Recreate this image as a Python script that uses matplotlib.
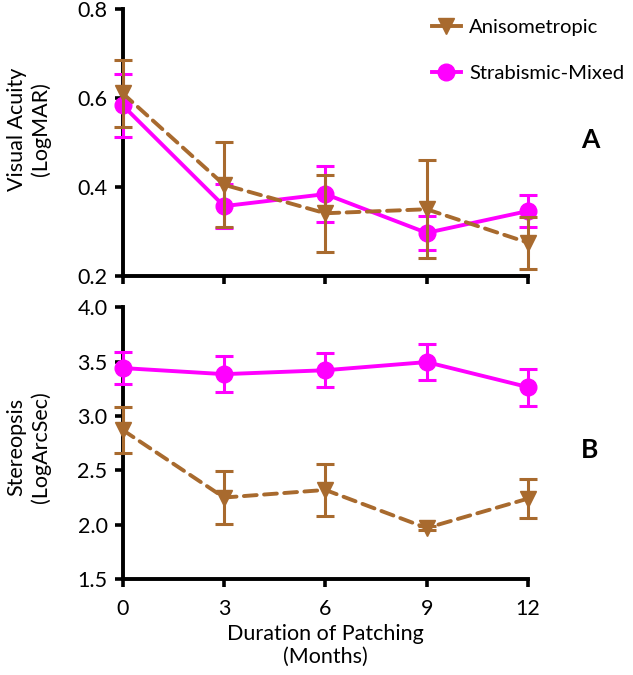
import numpy as np
import matplotlib.pyplot as plt
from matplotlib.lines import Line2D

plt.rcParams['font.family'] = ['Lato', 'DejaVu Sans']

months = [0, 3, 6, 9, 12]

# Visual acuity (LogMAR)
va_aniso = [0.610, 0.405, 0.341, 0.350, 0.275]
va_aniso_err = [0.075, 0.095, 0.086, 0.110, 0.058]
va_strab = [0.583, 0.357, 0.384, 0.297, 0.346]
va_strab_err = [0.070, 0.050, 0.063, 0.038, 0.036]

# Stereopsis (LogArcSec)
st_aniso = [2.87, 2.25, 2.32, 1.97, 2.24]
st_aniso_err = [0.21, 0.24, 0.24, 0.02, 0.18]
st_strab = [3.44, 3.384, 3.42, 3.495, 3.265]
st_strab_err = [0.148, 0.165, 0.155, 0.165, 0.17]

BROWN = '#A86A2E'
MAGENTA = '#FF00FF'
DASH = (0, (3.3, 1.9))


def style_axis(ax):
    for side in ['top', 'right']:
        ax.spines[side].set_visible(False)
    for side in ['left', 'bottom']:
        ax.spines[side].set_linewidth(2.8)
    ax.tick_params(width=2.6, length=6, labelsize=15.5)
    ax.tick_params(axis='y', pad=5)
    ax.tick_params(axis='x', pad=8)
    ax.set_xlim(0, 12)
    ax.set_xticks(months)


def draw(ax, strab, strab_err, aniso, aniso_err):
    ax.errorbar(months, strab, yerr=strab_err, color=MAGENTA, lw=2.8,
                marker='o', markersize=12, capsize=6.5, capthick=2.2,
                elinewidth=2.2, clip_on=False, zorder=3)
    eb = ax.errorbar(months, aniso, yerr=aniso_err, color=BROWN, lw=2.8,
                     ls=DASH, marker='v', markersize=11, capsize=6.5,
                     capthick=2.2, elinewidth=2.2, clip_on=False, zorder=4)
    eb[0].set_dash_capstyle('round')


fig = plt.figure(figsize=(6.33, 6.75), dpi=100)
ax1 = fig.add_axes([0.194, 0.591, 0.640, 0.396])
ax2 = fig.add_axes([0.194, 0.142, 0.640, 0.403])

draw(ax1, va_strab, va_strab_err, va_aniso, va_aniso_err)
style_axis(ax1)
ax1.set_ylim(0.2, 0.8)
ax1.set_yticks([0.2, 0.4, 0.6, 0.8])
ax1.set_yticklabels(['0.2', '0.4', '0.6', '0.8'])
ax1.set_xticklabels([])
ax1.set_ylabel('Visual Acuity\n(LogMAR)', fontsize=15.5)
ax1.yaxis.set_label_coords(-0.178, 0.55)

draw(ax2, st_strab, st_strab_err, st_aniso, st_aniso_err)
style_axis(ax2)
ax2.set_ylim(1.5, 4.0)
ax2.set_yticks([1.5, 2.0, 2.5, 3.0, 3.5, 4.0])
ax2.set_yticklabels(['1.5', '2.0', '2.5', '3.0', '3.5', '4.0'])
ax2.set_xticklabels([str(m) for m in months])
ax2.set_ylabel('Stereopsis\n(LogArcSec)', fontsize=15.5)
ax2.yaxis.set_label_coords(-0.178, 0.485)
ax2.set_xlabel('Duration of Patching\n(Months)', fontsize=15.5, labelpad=4)

handles = [
    Line2D([], [], color=BROWN, lw=2.8, marker='v', markersize=11),
    Line2D([], [], color=MAGENTA, lw=2.8, marker='o', markersize=12),
]
fig.legend(handles, ['Anisometropic', 'Strabismic-Mixed'], loc='upper left',
           bbox_to_anchor=(0.682, 0.972), frameon=False, fontsize=14.6,
           handlelength=1.45, handletextpad=0.4, labelspacing=1.4,
           borderaxespad=0, borderpad=0)

fig.text(0.932, 0.793, 'A', fontsize=19, fontweight='bold', ha='center', va='center')
fig.text(0.932, 0.333, 'B', fontsize=19, fontweight='bold', ha='center', va='center')

fig.savefig('out.png', dpi=100)
